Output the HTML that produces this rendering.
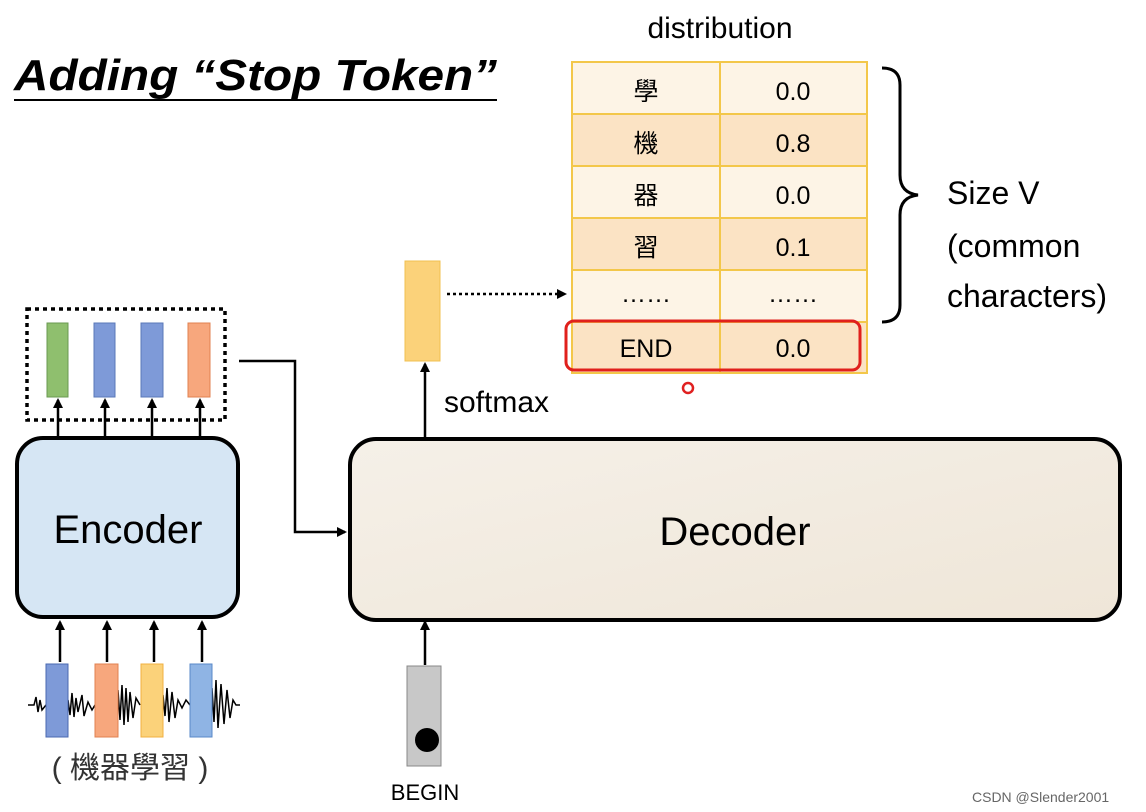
<!DOCTYPE html>
<html><head><meta charset="utf-8"><style>
body{margin:0;width:1146px;height:812px;background:#fff;overflow:hidden;position:relative;font-family:"Liberation Sans","Noto Sans CJK TC",sans-serif}
.a{position:absolute}
</style></head><body>
<svg class="a" style="left:0;top:0" width="1146" height="812">
<defs><marker id="ar" markerWidth="10" markerHeight="10" refX="8" refY="5" orient="auto" markerUnits="userSpaceOnUse"><path d="M0,0 L10,5 L0,10 z" fill="#000"/></marker>
<linearGradient id="dg" x1="0" y1="0" x2="1" y2="1"><stop offset="0" stop-color="#f5f0e8"/><stop offset="1" stop-color="#efe6d8"/></linearGradient></defs>
<text x="14" y="90" font-family="Liberation Sans" font-size="44" font-weight="bold" font-style="italic" textLength="483" lengthAdjust="spacingAndGlyphs">Adding “Stop Token”</text>
<line x1="14" y1="100" x2="497" y2="100" stroke="#000" stroke-width="2"/>
<text x="720" y="38" font-family="Liberation Sans" font-size="30" text-anchor="middle">distribution</text>
<g stroke="#f3c74a" stroke-width="2">
<rect x="572" y="62" width="295" height="52" fill="#fdf4e6"/>
<rect x="572" y="114" width="295" height="52" fill="#fbe3c4"/>
<rect x="572" y="166" width="295" height="52" fill="#fdf4e6"/>
<rect x="572" y="218" width="295" height="52" fill="#fbe3c4"/>
<rect x="572" y="270" width="295" height="52" fill="#fdf4e6"/>
<rect x="572" y="322" width="295" height="51" fill="#fbe3c4"/>
<line x1="720" y1="62" x2="720" y2="373"/>
</g>
<rect x="566" y="321" width="294" height="49" rx="8" fill="none" stroke="#e0201c" stroke-width="3"/>
<g font-size="25" text-anchor="middle" font-family="Liberation Sans,Noto Sans CJK TC,sans-serif">
<text x="646" y="100">學</text><text x="793" y="100">0.0</text>
<text x="646" y="152">機</text><text x="793" y="152">0.8</text>
<text x="646" y="204">器</text><text x="793" y="204">0.0</text>
<text x="646" y="256">習</text><text x="793" y="256">0.1</text>
<text x="646" y="302">……</text><text x="793" y="302">……</text>
<text x="646" y="357">END</text><text x="793" y="357">0.0</text>
</g>
<circle cx="688" cy="388" r="5" fill="none" stroke="#e02020" stroke-width="2.5"/>
<path d="M882,68 Q900,68 900,85 L900,175 Q900,193 918,195 Q900,197 900,215 L900,305 Q900,322 882,322" fill="none" stroke="#000" stroke-width="3"/>
<g font-size="32" font-family="Liberation Sans"><text x="947" y="204">Size V</text><text x="947" y="257">(common</text><text x="947" y="307">characters)</text></g>
<rect x="405" y="261" width="35" height="100" fill="#fbd27a" stroke="#f0c050"/>
<line x1="447" y1="294" x2="565" y2="294" stroke="#000" stroke-width="2.5" stroke-dasharray="3,3" marker-end="url(#ar)"/>
<line x1="425" y1="438" x2="425" y2="364" stroke="#000" stroke-width="2.5" marker-end="url(#ar)"/>
<text x="444" y="412" font-size="30" font-family="Liberation Sans">softmax</text>
<rect x="350" y="439" width="770" height="181" rx="26" fill="url(#dg)" stroke="#000" stroke-width="4"/>
<text x="735" y="545" font-size="40" text-anchor="middle" font-family="Liberation Sans">Decoder</text>
<rect x="17" y="438" width="221" height="179" rx="26" fill="#d6e6f4" stroke="#000" stroke-width="4"/>
<text x="128" y="543" font-size="40" text-anchor="middle" font-family="Liberation Sans">Encoder</text>
<rect x="27" y="309" width="198" height="111" fill="none" stroke="#000" stroke-width="3.5" stroke-dasharray="4,4"/>
<rect x="47" y="323" width="21" height="74" fill="#8fbf6e" stroke="#6a9a50"/>
<rect x="94" y="323" width="21" height="74" fill="#7e9ad8" stroke="#5a78b8"/>
<rect x="141" y="323" width="22" height="74" fill="#7e9ad8" stroke="#5a78b8"/>
<rect x="188" y="323" width="22" height="74" fill="#f7a77d" stroke="#e08050"/>
<g stroke="#000" stroke-width="2.5" marker-end="url(#ar)">
<line x1="58" y1="437" x2="58" y2="400"/><line x1="105" y1="437" x2="105" y2="400"/>
<line x1="152" y1="437" x2="152" y2="400"/><line x1="200" y1="437" x2="200" y2="400"/>
<line x1="60" y1="662" x2="60" y2="622"/><line x1="107" y1="662" x2="107" y2="622"/>
<line x1="154" y1="662" x2="154" y2="622"/><line x1="202" y1="662" x2="202" y2="622"/>
<line x1="425" y1="665" x2="425" y2="622"/>
</g>
<polyline points="239,361 295,361 295,532 345,532" fill="none" stroke="#000" stroke-width="2.5" marker-end="url(#ar)"/>
<path d="M28,705 L34,705 L36,697 L38,712 L40,700 L42,710 L46,705 M68,700 L70,715 L72,693 L74,717 L76,698 L78,712 L82,695 L84,716 L88,702 L92,710 L95,705 M118,690 L120,720 L122,685 L124,725 L126,688 L128,722 L130,692 L133,718 L136,698 L140,705 M163,695 L165,716 L167,688 L169,722 L172,692 L175,718 L178,700 L182,708 L186,700 L190,705 M212,688 L214,722 L216,680 L218,728 L221,684 L224,724 L227,690 L230,718 L233,700 L236,705 L240,705" fill="none" stroke="#000" stroke-width="1.5"/>
<rect x="46" y="664" width="22" height="73" fill="#7e9ad8" stroke="#4a68b0"/>
<rect x="95" y="664" width="23" height="73" fill="#f7a77d" stroke="#e08050"/>
<rect x="141" y="664" width="22" height="73" fill="#fbd27a" stroke="#f0b040"/>
<rect x="190" y="664" width="22" height="73" fill="#8fb4e4" stroke="#5a88c8"/>
<text x="130" y="778" font-size="30" text-anchor="middle" fill="#333" font-family="Liberation Sans,Noto Sans CJK TC,sans-serif">( 機器學習 )</text>
<rect x="407" y="666" width="34" height="100" fill="#c8c8c8" stroke="#888"/>
<circle cx="427" cy="740" r="12" fill="#000"/>
<text x="425" y="800" font-size="22" text-anchor="middle" font-family="Liberation Sans">BEGIN</text>
<text x="972" y="802" font-size="14" fill="#666" font-family="Liberation Sans">CSDN @Slender2001</text>
</svg>
</body></html>
